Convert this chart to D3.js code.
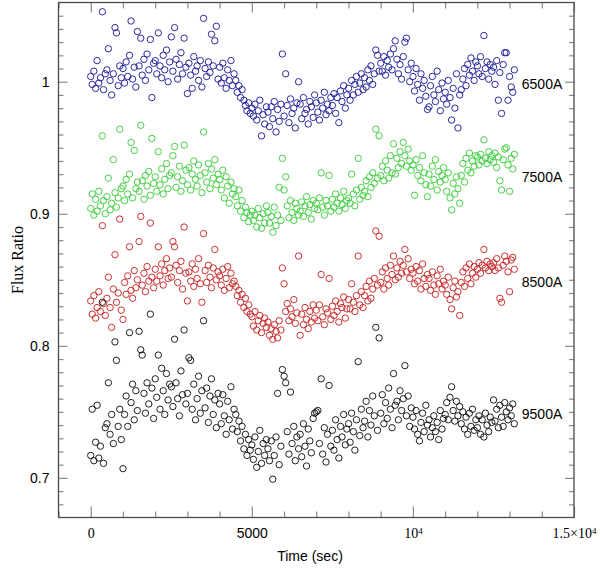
<!DOCTYPE html>
<html>
<head>
<meta charset="utf-8">
<script src="https://cdn.jsdelivr.net/npm/d3@7"></script>
<style>
body { margin: 0; background: #fff; }
</style>
</head>
<body>
<div id="chart"></div>
<script>
// exposure times (sec), shared by all four bands
const times = [
	0, 47, 98, 152, 199, 251, 302, 361, 398, 452,
	503, 548, 601, 649, 702, 753, 798, 853, 901, 949,
	1002, 1051, 1098, 1149, 1203, 1252, 1299, 1351, 1402, 1448,
	1501, 1553, 1598, 1652, 1699, 1748, 1803, 1851, 1899, 1952,
	2003, 2049, 2098, 2151, 2202, 2250, 2297, 2352, 2401, 2449,
	2502, 2551, 2603, 2648, 2699, 2752, 2801, 2849, 2898, 2953,
	3001, 3048, 3102, 3150, 3199, 3253, 3302, 3348, 3401, 3450,
	3503, 3549, 3598, 3652, 3701, 3748, 3802, 3851, 3899, 3952,
	4001, 4052, 4099, 4148, 4203, 4251, 4298, 4352, 4400, 4449,
	4502, 4548, 4601, 4650, 4698, 4753, 4801, 4849, 4902, 4951,
	5003, 5050, 5098, 5152, 5201, 5248, 5302, 5351, 5399, 5452,
	5501, 5549, 5603, 5650, 5698, 5752, 5800, 5849, 5903, 5948,
	6002, 6051, 6098, 6152, 6200, 6249, 6303, 6350, 6398, 6452,
	6501, 6548, 6602, 6651, 6699, 6752, 6801, 6848, 6903, 6950,
	7002, 7049, 7098, 7152, 7200, 7251, 7303, 7349, 7398, 7452,
	7501, 7550, 7602, 7648, 7701, 7752, 7799, 7851, 7902, 7949,
	8003, 8051, 8098, 8152, 8199, 8248, 8302, 8351, 8399, 8453,
	8501, 8548, 8603, 8650, 8698, 8752, 8801, 8849, 8902, 8951,
	9002, 9050, 9099, 9151, 9203, 9248, 9301, 9352, 9398, 9451,
	9503, 9549, 9601, 9648, 9702, 9751, 9798, 9852, 9901, 9949,
	10002, 10051, 10099, 10148, 10203, 10250, 10302, 10349, 10401, 10452,
	10501, 10548, 10603, 10651, 10699, 10752, 10800, 10849, 10903, 10950,
	11003, 11049, 11098, 11152, 11201, 11249, 11302, 11351, 11398, 11452,
	11501, 11550, 11602, 11648, 11700, 11753, 11801, 11849, 11902, 11951,
	12002, 12051, 12098, 12150, 12203, 12249, 12301, 12352, 12399, 12448,
	12503, 12549, 12601, 12652, 12698, 12751, 12802, 12850, 12899, 12953,
	13001, 13052, 13099, 13148
]

const flux6500 = [
	1.004, 0.998, 1.008, 0.995, 1.016, 0.999, 1.003, 1.053, 0.994, 1.006,
	1.009, 1.025, 1.001, 0.990, 1.006, 1.041, 1.037, 0.997, 1.012, 1.003,
	1.010, 0.999, 1.015, 1.004, 1.020, 1.046, 1.002, 1.011, 0.996, 1.038,
	1.012, 1.033, 1.005, 1.017, 1.001, 1.021, 1.009, 1.032, 0.988, 1.014,
	1.016, 1.006, 1.037, 1.012, 1.003, 1.020, 1.009, 1.024, 1.000, 1.015,
	1.034, 1.008, 1.041, 1.017, 1.002, 1.013, 1.022, 1.006, 1.033, 1.011,
	0.991, 1.014, 1.005, 0.995, 1.019, 1.008, 1.012, 1.001, 1.016, 0.996,
	1.048, 1.010, 1.004, 1.015, 1.007, 1.036, 1.012, 1.031, 1.042, 1.002,
	1.011, 0.999, 1.014, 1.003, 0.995, 1.009, 1.001, 1.016, 0.997, 1.006,
	1.001, 0.992, 0.997, 0.988, 0.994, 0.986, 0.982, 0.978, 0.984, 0.976,
	0.980, 0.974, 0.983, 0.971, 0.978, 0.986, 0.959, 0.975, 0.968, 0.981,
	0.977, 0.966, 0.981, 0.972, 0.985, 0.962, 0.979, 0.970, 0.983, 1.021,
	0.974, 1.006, 0.982, 0.969, 0.987, 0.976, 0.980, 0.965, 0.984, 1.000,
	0.983, 0.972, 0.988, 0.976, 0.979, 0.968, 0.985, 0.981, 0.973, 0.990,
	0.984, 0.977, 0.971, 0.986, 0.980, 0.992, 0.975, 0.983, 0.978, 0.988,
	0.982, 0.991, 0.976, 0.988, 0.969, 0.993, 0.985, 0.997, 0.980, 0.990,
	0.995, 0.986, 1.001, 0.990, 0.998, 1.004, 0.992, 0.999, 1.006, 0.994,
	1.003, 0.996, 1.009, 1.001, 1.012, 0.998, 1.006, 1.024, 1.020, 1.008,
	1.014, 1.008, 1.019, 1.005, 1.016, 1.011, 1.021, 1.009, 1.025, 1.031,
	1.017, 1.006, 1.013, 1.002, 1.019, 1.030, 1.033, 1.009, 1.000, 1.014,
	1.004, 0.993, 1.010, 0.998, 0.986, 1.006, 0.995, 1.001, 0.989, 0.979,
	0.981, 0.997, 1.004, 0.990, 0.985, 1.008, 0.994, 0.978, 0.999, 0.987,
	0.992, 0.983, 1.001, 0.988, 0.971, 0.995, 0.980, 1.006, 0.965, 0.990,
	0.994, 1.002, 1.010, 0.997, 1.013, 1.005, 1.018, 1.008, 1.001, 1.015,
	1.012, 1.006, 1.019, 1.004, 1.035, 1.010, 1.015, 1.002, 1.013, 1.008,
	1.011, 0.998, 1.016, 0.986, 1.007, 0.976, 1.013, 1.022, 1.022, 0.986,
	1.004, 0.996, 0.992, 1.009
]

const flux7500 = [
	0.904, 0.915, 0.899, 0.911, 0.902, 0.917, 0.906, 0.959, 0.910, 0.900,
	0.913, 0.927, 0.903, 0.908, 0.941, 0.916, 0.905, 0.912, 0.964, 0.919,
	0.921, 0.910, 0.926, 0.915, 0.930, 0.954, 0.912, 0.948, 0.919, 0.924,
	0.917, 0.967, 0.925, 0.911, 0.929, 0.921, 0.932, 0.914, 0.957, 0.923,
	0.928, 0.917, 0.947, 0.922, 0.934, 0.915, 0.926, 0.938, 0.919, 0.929,
	0.931, 0.944, 0.951, 0.920, 0.928, 0.936, 0.917, 0.925, 0.952, 0.933,
	0.922, 0.935, 0.918, 0.930, 0.940, 0.926, 0.921, 0.937, 0.929, 0.916,
	0.962, 0.931, 0.924, 0.938, 0.919, 0.934, 0.927, 0.941, 0.922, 0.930,
	0.926, 0.918, 0.933, 0.912, 0.928, 0.921, 0.908, 0.924, 0.915, 0.919,
	0.913, 0.906, 0.918, 0.902, 0.910, 0.897, 0.905, 0.901, 0.894, 0.899,
	0.902, 0.895, 0.899, 0.890, 0.904, 0.897, 0.889, 0.900, 0.893, 0.906,
	0.901, 0.893, 0.898, 0.886, 0.905, 0.891, 0.899, 0.920, 0.895, 0.942,
	0.918, 0.928, 0.906, 0.897, 0.910, 0.901, 0.895, 0.908, 0.904, 0.899,
	0.902, 0.909, 0.898, 0.906, 0.913, 0.901, 0.907, 0.896, 0.910, 0.904,
	0.908, 0.903, 0.912, 0.931, 0.905, 0.899, 0.910, 0.906, 0.929, 0.902,
	0.911, 0.905, 0.915, 0.908, 0.902, 0.912, 0.907, 0.917, 0.904, 0.910,
	0.912, 0.908, 0.930, 0.915, 0.906, 0.918, 0.942, 0.911, 0.920, 0.914,
	0.917, 0.925, 0.913, 0.928, 0.920, 0.931, 0.923, 0.964, 0.927, 0.959,
	0.929, 0.936, 0.925, 0.940, 0.933, 0.927, 0.944, 0.931, 0.953, 0.930,
	0.942, 0.935, 0.947, 0.938, 0.954, 0.944, 0.936, 0.949, 0.940, 0.933,
	0.937, 0.914, 0.941, 0.929, 0.935, 0.925, 0.944, 0.931, 0.922, 0.913,
	0.930, 0.921, 0.936, 0.926, 0.941, 0.918, 0.932, 0.924, 0.929, 0.935,
	0.926, 0.917, 0.931, 0.912, 0.903, 0.923, 0.915, 0.928, 0.919, 0.908,
	0.929, 0.938, 0.924, 0.942, 0.933, 0.946, 0.931, 0.940, 0.936, 0.944,
	0.943, 0.937, 0.945, 0.940, 0.956, 0.942, 0.938, 0.947, 0.941, 0.944,
	0.939, 0.946, 0.935, 0.943, 0.925, 0.918, 0.941, 0.949, 0.950, 0.937,
	0.917, 0.942, 0.934, 0.945
]

const flux8500 = [
	0.834, 0.824, 0.838, 0.821, 0.829, 0.841, 0.826, 0.891, 0.832, 0.823,
	0.836, 0.852, 0.829, 0.814, 0.843, 0.869, 0.833, 0.840, 0.896, 0.827,
	0.820, 0.848, 0.839, 0.853, 0.875, 0.842, 0.836, 0.857, 0.844, 0.850,
	0.879, 0.898, 0.846, 0.855, 0.841, 0.860, 0.849, 0.893, 0.852, 0.844,
	0.858, 0.849, 0.875, 0.853, 0.862, 0.846, 0.857, 0.866, 0.851, 0.859,
	0.852, 0.879, 0.875, 0.861, 0.848, 0.857, 0.864, 0.843, 0.890, 0.855,
	0.834, 0.856, 0.849, 0.862, 0.845, 0.858, 0.851, 0.866, 0.847, 0.833,
	0.885, 0.857, 0.848, 0.861, 0.852, 0.844, 0.859, 0.873, 0.850, 0.856,
	0.853, 0.846, 0.858, 0.842, 0.851, 0.860, 0.844, 0.855, 0.847, 0.849,
	0.845, 0.838, 0.842, 0.833, 0.839, 0.829, 0.836, 0.826, 0.831, 0.824,
	0.822, 0.815, 0.826, 0.812, 0.819, 0.823, 0.810, 0.817, 0.821, 0.814,
	0.818, 0.808, 0.813, 0.805, 0.816, 0.811, 0.806, 0.819, 0.812, 0.859,
	0.847, 0.826, 0.832, 0.819, 0.828, 0.822, 0.835, 0.817, 0.825, 0.868,
	0.808, 0.824, 0.816, 0.829, 0.820, 0.813, 0.826, 0.818, 0.831, 0.821,
	0.827, 0.819, 0.831, 0.854, 0.822, 0.816, 0.828, 0.825, 0.851, 0.820,
	0.830, 0.823, 0.834, 0.826, 0.818, 0.832, 0.829, 0.837, 0.821, 0.828,
	0.835, 0.828, 0.847, 0.833, 0.826, 0.838, 0.868, 0.831, 0.841, 0.829,
	0.838, 0.845, 0.834, 0.849, 0.836, 0.843, 0.851, 0.887, 0.846, 0.883,
	0.848, 0.856, 0.843, 0.859, 0.851, 0.846, 0.861, 0.854, 0.868, 0.850,
	0.859, 0.852, 0.864, 0.855, 0.861, 0.873, 0.856, 0.866, 0.851, 0.858,
	0.855, 0.847, 0.860, 0.849, 0.857, 0.843, 0.862, 0.851, 0.845, 0.854,
	0.851, 0.842, 0.856, 0.846, 0.839, 0.853, 0.847, 0.858, 0.843, 0.849,
	0.846, 0.839, 0.852, 0.835, 0.828, 0.844, 0.849, 0.837, 0.841, 0.823,
	0.848, 0.856, 0.845, 0.859, 0.851, 0.862, 0.847, 0.855, 0.860, 0.852,
	0.858, 0.863, 0.855, 0.861, 0.873, 0.859, 0.864, 0.857, 0.862, 0.860,
	0.863, 0.857, 0.866, 0.859, 0.836, 0.833, 0.861, 0.868, 0.864, 0.856,
	0.841, 0.865, 0.867, 0.858
]

const flux9500 = [
	0.717, 0.752, 0.713, 0.727, 0.755, 0.715, 0.724, 0.833, 0.711, 0.738,
	0.741, 0.772, 0.733, 0.748, 0.726, 0.803, 0.789, 0.739, 0.752, 0.729,
	0.707, 0.748, 0.762, 0.739, 0.810, 0.757, 0.771, 0.744, 0.766, 0.751,
	0.811, 0.797, 0.793, 0.764, 0.749, 0.772, 0.756, 0.824, 0.768, 0.745,
	0.775, 0.761, 0.793, 0.752, 0.783, 0.766, 0.748, 0.779, 0.759, 0.771,
	0.769, 0.754, 0.805, 0.772, 0.760, 0.747, 0.781, 0.763, 0.812, 0.756,
	0.764, 0.791, 0.789, 0.752, 0.771, 0.744, 0.760, 0.777, 0.749, 0.766,
	0.819, 0.753, 0.768, 0.742, 0.762, 0.775, 0.748, 0.759, 0.738, 0.764,
	0.756, 0.741, 0.763, 0.747, 0.733, 0.758, 0.744, 0.769, 0.737, 0.752,
	0.748, 0.735, 0.743, 0.728, 0.739, 0.722, 0.733, 0.717, 0.729, 0.721,
	0.725, 0.714, 0.731, 0.708, 0.720, 0.736, 0.711, 0.726, 0.717, 0.729,
	0.722, 0.713, 0.728, 0.699, 0.717, 0.731, 0.764, 0.710, 0.724, 0.782,
	0.777, 0.772, 0.735, 0.718, 0.765, 0.726, 0.739, 0.713, 0.731, 0.722,
	0.733, 0.716, 0.741, 0.724, 0.709, 0.737, 0.728, 0.719, 0.745, 0.749,
	0.750, 0.751, 0.726, 0.775, 0.718, 0.738, 0.712, 0.733, 0.770, 0.724,
	0.736, 0.721, 0.744, 0.729, 0.715, 0.739, 0.731, 0.748, 0.725, 0.737,
	0.741, 0.727, 0.749, 0.735, 0.721, 0.744, 0.788, 0.732, 0.752, 0.738,
	0.743, 0.758, 0.731, 0.751, 0.740, 0.762, 0.747, 0.814, 0.736, 0.806,
	0.749, 0.763, 0.741, 0.757, 0.745, 0.768, 0.752, 0.738, 0.779, 0.755,
	0.758, 0.744, 0.766, 0.751, 0.760, 0.785, 0.747, 0.762, 0.739, 0.753,
	0.746, 0.737, 0.751, 0.733, 0.728, 0.742, 0.749, 0.735, 0.755, 0.740,
	0.744, 0.731, 0.738, 0.747, 0.735, 0.742, 0.729, 0.751, 0.737, 0.745,
	0.748, 0.757, 0.744, 0.761, 0.769, 0.751, 0.743, 0.758, 0.747, 0.754,
	0.741, 0.750, 0.737, 0.746, 0.733, 0.749, 0.739, 0.752, 0.736, 0.744,
	0.738, 0.747, 0.733, 0.744, 0.731, 0.749, 0.740, 0.735, 0.746, 0.742,
	0.759, 0.743, 0.752, 0.738, 0.755, 0.746, 0.739, 0.757, 0.750, 0.744,
	0.753, 0.747, 0.756, 0.741
]

const bandNames = ['6500A', '7500A', '8500A', '9500A']
const bandColors = ['#1f1f99', '#3ccc3c', '#c82626', '#141414']
const bandFlux = [flux6500, flux7500, flux8500, flux9500]
const labelTime = 13380
const labelLevels = [0.9986, 0.928, 0.8486, 0.7483]

const xMajor = [0, 5000, 10000, 15000]
const xLabels = ['0', '5000', '10^4', '1.5\u00d710^4']
const yMajor = [0.7, 0.8, 0.9, 1.0]
const yLabels = ['0.7', '0.8', '0.9', '1']

const width = 600
const height = 569
const plotLeft = 58.5, plotRight = 574, plotTop = 2.5, plotBottom = 517.5

const svg = d3.select('#chart')
	.append('svg')
	.attr('width', width)
	.attr('height', height)
	.style('font-family', '"Liberation Sans", Arial, sans-serif')

const x = d3.scaleLinear().domain([-1000, 15000]).range([plotLeft, plotRight])
const y = d3.scaleLinear().domain([0.67, 1.06]).range([plotBottom, plotTop])

const xMinor = d3.range(-1000, 15001, 1000).filter(d => xMajor.indexOf(d) < 0)
const yMinor = d3.range(68, 106).map(d => d / 100).filter(d => yMajor.indexOf(d) < 0)

// inward ticks on all four sides
function tickAxis(gen, transform) {
	const g = svg.append('g').attr('transform', transform).call(gen)
	g.select('.domain').remove()
	g.selectAll('.tick line').attr('stroke', '#8a8a8a').attr('stroke-width', 1.2)
	return g
}

tickAxis(d3.axisBottom(x).tickValues(xMinor).tickSize(-6).tickFormat(''), `translate(0,${plotBottom})`)
tickAxis(d3.axisTop(x).tickValues(xMinor).tickSize(-6).tickFormat(''), `translate(0,${plotTop})`)
tickAxis(d3.axisTop(x).tickValues(xMajor).tickSize(-10).tickFormat(''), `translate(0,${plotTop})`)
tickAxis(d3.axisLeft(y).tickValues(yMinor).tickSize(-5).tickFormat(''), `translate(${plotLeft},0)`)
tickAxis(d3.axisRight(y).tickValues(yMinor).tickSize(-5).tickFormat(''), `translate(${plotRight},0)`)
tickAxis(d3.axisRight(y).tickValues(yMajor).tickSize(-9).tickFormat(''), `translate(${plotRight},0)`)

const xAxis = tickAxis(d3.axisBottom(x).tickValues(xMajor).tickSize(-11).tickPadding(11)
	.tickFormat((d, i) => xLabels[i]), `translate(0,${plotBottom})`)
xAxis.selectAll('.tick text')
	.attr('fill', '#000')
	.style('font-size', '14px')
	.style('font-family', (d, i) => i == 1 ? '"Liberation Sans", Arial, sans-serif' : '"Liberation Serif", "Times New Roman", serif')
	.each(function (d, i) {
		const parts = xLabels[i].split('^')
		if (parts.length < 2) return
		const t = d3.select(this).text('')
		t.append('tspan').text(parts[0])
		t.append('tspan').attr('dy', '-0.45em').style('font-size', '9px').text(parts[1])
	})

const yAxis = tickAxis(d3.axisLeft(y).tickValues(yMajor).tickSize(-9).tickPadding(9)
	.tickFormat((d, i) => yLabels[i]), `translate(${plotLeft},0)`)
yAxis.selectAll('.tick text')
	.attr('fill', '#000')
	.style('font-size', '14px')

// frame
svg.append('rect')
	.attr('x', plotLeft)
	.attr('y', plotTop)
	.attr('width', plotRight - plotLeft)
	.attr('height', plotBottom - plotTop)
	.attr('fill', 'none')
	.attr('stroke', '#4a4a4a')
	.attr('stroke-width', 1.3)

// data points
bandFlux.forEach(function (values, k) {
	svg.append('g')
		.selectAll('circle')
		.data(values)
		.enter()
		.append('circle')
		.attr('cx', (d, i) => x(times[i]))
		.attr('cy', d => y(d))
		.attr('r', 3.2)
		.attr('fill', 'none')
		.attr('stroke', bandColors[k])
		.attr('stroke-width', 0.95)

	svg.append('text')
		.attr('x', x(labelTime))
		.attr('y', y(labelLevels[k]))
		.attr('dy', '0.36em')
		.style('font-size', '14px')
		.attr('fill', '#000')
		.text(bandNames[k])
})

svg.append('text')
	.attr('x', 310)
	.attr('y', 561)
	.attr('text-anchor', 'middle')
	.style('font-size', '14px')
	.text('Time (sec)')

svg.append('text')
	.attr('transform', 'translate(23,260) rotate(-90)')
	.attr('text-anchor', 'middle')
	.style('font-size', '16px')
	.style('font-family', '"Liberation Serif", "Times New Roman", serif')
	.text('Flux Ratio')
</script>
